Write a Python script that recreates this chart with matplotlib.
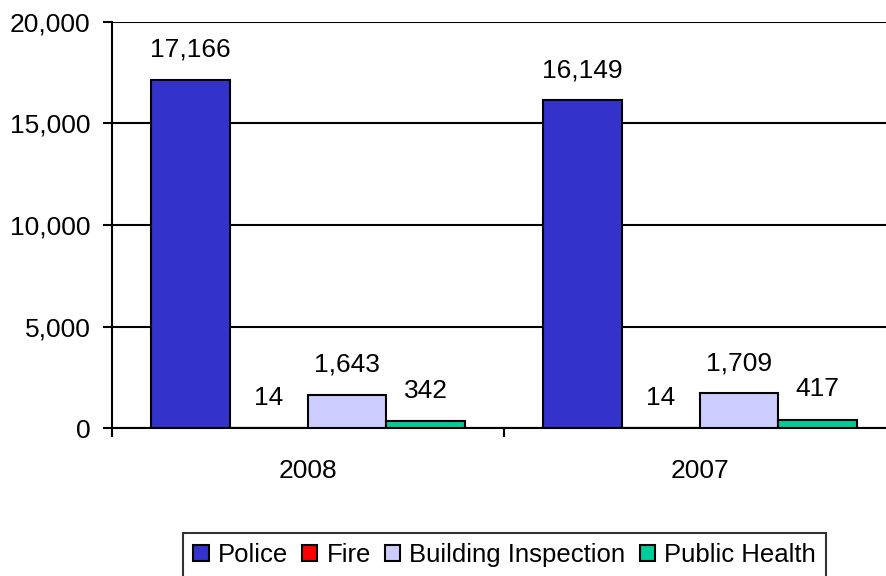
import matplotlib
matplotlib.use("Agg")
import matplotlib.pyplot as plt
import numpy as np

# Data
years = ["2008", "2007"]
departments = ["Police", "Fire", "Building Inspection", "Public Health"]
police = [17166, 16149]
fire = [14, 14]
building = [1643, 1709]
public_health = [342, 417]

colors = ["#3333CC", "#FF0000", "#CCCCFF", "#00CC99"]
y_ticks = [0, 5000, 10000, 15000, 20000]

plt.rcParams["font.family"] = ["Liberation Sans", "DejaVu Sans"]
plt.rcParams["font.size"] = 19

fig = plt.figure(figsize=(8.86, 5.76), dpi=100)
# plot area runs off the right edge of the picture, as in the reference
ax = fig.add_axes([112 / 886, 1 - 428 / 576, 784 / 886, 406 / 576])

x = np.arange(len(years))
width = 0.2
series = [police, fire, building, public_health]
for i, (name, values) in enumerate(zip(departments, series)):
    bars = ax.bar(
        x + (i - 1.5) * width,
        values,
        width,
        label=name,
        color=colors[i],
        edgecolor="black",
        linewidth=1.5,
        zorder=3,
    )
    ax.bar_label(bars, labels=[f"{v:,}" for v in values], padding=13, fontsize=19)

ax.set_xlim(-0.5, len(years) - 0.5)
ax.set_ylim(0, 20000)
ax.set_yticks(y_ticks)
ax.set_yticklabels([f"{v:,}" for v in y_ticks])
ax.yaxis.grid(True, color="black", linewidth=1.5, zorder=0)
ax.set_axisbelow(True)

ax.set_xticks(x)
ax.set_xticklabels(years)
ax.set_xticks(np.arange(-0.5, len(years)), minor=True)
ax.tick_params(axis="x", which="major", length=0, pad=22)
ax.tick_params(axis="x", which="minor", length=6.5, width=1.5, direction="out")
ax.tick_params(axis="y", length=6.5, width=1.5, pad=9)

for side in ["top", "right"]:
    ax.spines[side].set_visible(False)
ax.spines["left"].set_linewidth(1.5)
ax.spines["bottom"].set_linewidth(1.5)

leg = fig.legend(
    loc="upper left",
    bbox_to_anchor=(183 / 886, 1 - 533 / 576),
    borderaxespad=0,
    ncol=4,
    frameon=True,
    fancybox=False,
    handlelength=0.6,
    handleheight=0.6,
    handletextpad=0.35,
    columnspacing=0.55,
    borderpad=0.4,
    fontsize=18.5,
)
leg.get_frame().set_edgecolor("black")
leg.get_frame().set_linewidth(1.5)
for h in leg.legend_handles:
    h.set_edgecolor("black")
    h.set_linewidth(1.5)

fig.savefig("out.png", dpi=100)
